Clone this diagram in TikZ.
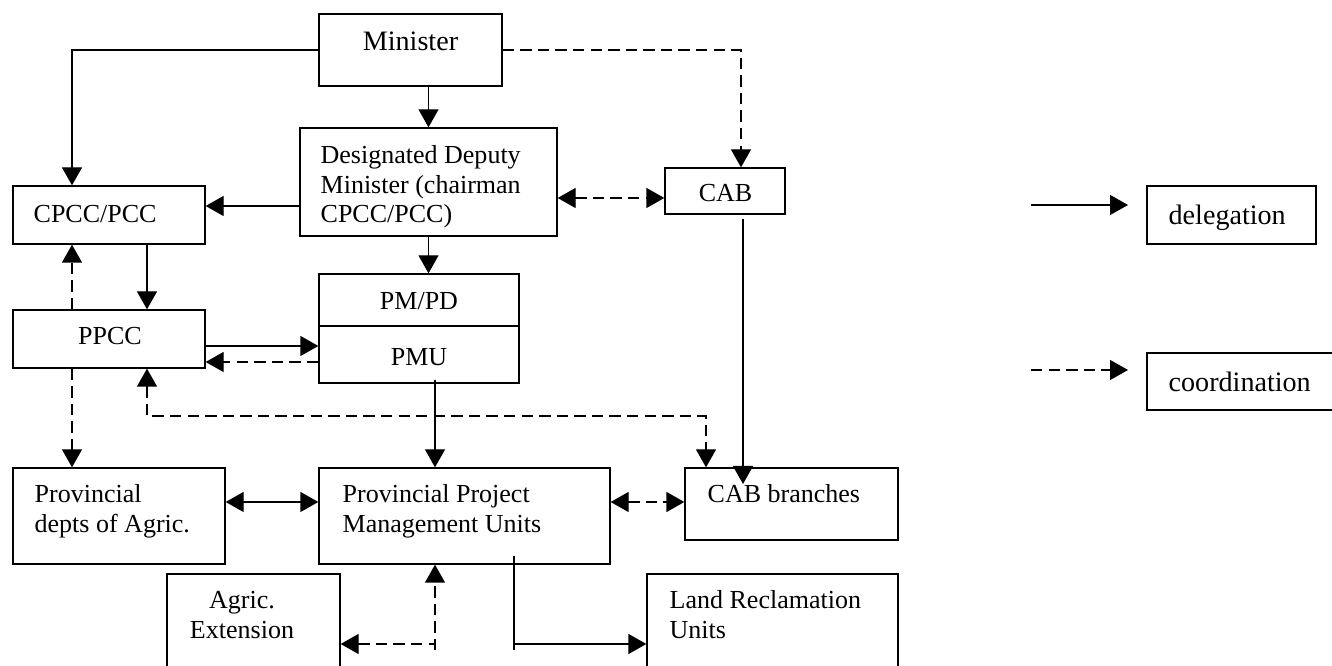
\documentclass[tikz,border=0pt]{standalone}
\usepackage{fontspec}
\setmainfont{Liberation Serif}
\usetikzlibrary{positioning, calc, arrows.meta}

\tikzset{
	box/.style={draw, line width=0.75pt, inner sep=0pt},
	txt/.style={inner sep=0pt, align=left, font=\fontsize{14.8}{17.6}\selectfont},
	big/.style={inner sep=0pt, font=\fontsize{16}{19}\selectfont},
	crd/.style={dash pattern=on 6.5pt off 3.5pt},
}

\begin{document}
\begin{tikzpicture}[>={Triangle[length=0.36cm,width=0.4cm]}, line width=0.75pt]
			\useasboundingbox (0,0) rectangle (26.64,13.32);
			\clip (0,0) rectangle (26.64,13.32);
			
			\node (min) at (8.21, 12.32) [box, minimum width=3.66cm, minimum height=1.44cm] {};
			\node (dep) at (8.57, 9.68) [box, minimum width=5.14cm, minimum height=2.16cm] {};
			\node (cab) at (14.5, 9.5) [box, minimum width=2.4cm, minimum height=0.92cm] {};
			\node (cpcc) at (2.18, 9.02) [box, minimum width=3.84cm, minimum height=1.16cm] {};
			\node (ppcc) at (2.18, 6.54) [box, minimum width=3.84cm, minimum height=1.16cm] {};
			\node (pmpd) at (8.38, 7.32) [box, minimum width=4cm, minimum height=1.04cm] {};
			\node (pmu) at (8.38, 6.23) [box, minimum width=4cm, minimum height=1.14cm] {};
			\node (depts) at (2.38, 3.0) [box, minimum width=4.24cm, minimum height=1.92cm] {};
			\node (ppmu) at (9.29, 3.0) [box, minimum width=5.82cm, minimum height=1.92cm] {};
			\node (cabb) at (15.83, 3.24) [box, minimum width=4.26cm, minimum height=1.44cm] {};
			\node (ext) at (5.07, 0.78) [box, minimum width=3.46cm, minimum height=2.12cm] {};
			\node (land) at (15.45, 0.78) [box, minimum width=5.02cm, minimum height=2.12cm] {};
			\node (deleg) at (24.63, 9.02) [box, minimum width=3.38cm, minimum height=1.16cm] {};
			\node (coord) at (24.87, 5.69) [box, minimum width=3.86cm, minimum height=1.14cm] {};
			
			% multi-line texts sit on the baseline of their last line
			\node (mint) at (8.21, 12.30) [big, anchor=base] {Minister};
			\node (dept) at (6.4, 8.86) [txt, anchor=base west, font=\fontsize{14.8}{17}\selectfont] {Designated Deputy\\Minister (chairman\\CPCC/PCC)};
			\node (cabt) at (14.51, 9.28) [txt, anchor=base] {CAB};
			\node (cpcct) at (0.66, 8.86) [txt, anchor=base west] {CPCC/PCC};
			\node (ppcct) at (2.2, 6.42) [txt, anchor=base] {PPCC};
			\node (pmpdt) at (8.38, 7.12) [txt, anchor=base] {PM/PD};
			\node (pmut) at (8.38, 6.0) [txt, anchor=base] {PMU};
			\node (deptst) at (0.68, 2.66) [txt, anchor=base west] {Provincial\\depts of Agric.};
			\node (ppmut) at (6.84, 2.66) [txt, anchor=base west] {Provincial Project\\Management Units};
			\node (cabbt) at (14.14, 3.26) [txt, anchor=base west] {CAB branches};
			\node (extt) at (4.84, 0.54) [txt, anchor=base, align=center] {Agric.\\Extension};
			\node (landt) at (13.38, 0.54) [txt, anchor=base west] {Land Reclamation\\Units};
			\node (delegt) at (23.36, 8.82) [big, anchor=base west] {delegation};
			\node (coordt) at (23.36, 5.48) [big, anchor=base west] {coordination};
			
			\coordinate (cabdown) at (14.86, 3.64);
			\coordinate (loop) at (14.12, 5.0);
			\coordinate (fork) at (8.7, 0.44);
			\coordinate (bend) at (10.28, 0.44);
			\coordinate (leg1) at (20.62, 9.22);
			\coordinate (leg2) at (20.62, 5.92);
			
			\draw[->] (min.west) -| ([xshift=-0.74cm]cpcc.north);
			\draw[->] (min.south -| dep.north) -- (dep.north);
			\draw[crd, ->] (min.east) -| ([xshift=0.32cm]cab.north);
			\draw[->] ([yshift=0.18cm]cpcc.east -| dep.west) -- ([yshift=0.18cm]cpcc.east);
			\draw[crd, <->] ([yshift=-0.14cm]cab.west -| dep.east) -- ([yshift=-0.14cm]cab.west);
			\draw[->] (dep.south) -- (dep.south |- pmpd.north);
			\draw[->] ([yshift=-0.08cm]cab.south -| cabdown) -- (cabdown);
			\draw[->] ([xshift=0.76cm]cpcc.south) -- ([xshift=0.76cm]ppcc.north);
			\draw[crd, ->] ([xshift=-0.74cm]ppcc.north) -- ([xshift=-0.74cm]cpcc.south);
			\draw[->] ([yshift=-0.14cm]ppcc.east) -- ([yshift=-0.14cm]ppcc.east -| pmu.west);
			\draw[crd, ->] ([yshift=-0.46cm]ppcc.east -| pmu.west) -- ([yshift=-0.46cm]ppcc.east);
			\draw[crd, <->] ([xshift=0.76cm]ppcc.south) |- (loop) -- (loop |- cabb.north);
			\draw[->] ([xshift=0.32cm,yshift=0.08cm]pmu.south) -- ([xshift=0.32cm]pmu.south |- ppmu.north);
			\draw[crd, ->] ([xshift=-0.74cm]ppcc.south) -- ([xshift=-0.74cm]ppcc.south |- depts.north);
			\draw[<->] ([yshift=0.28cm]depts.east) -- ([yshift=0.28cm]depts.east -| ppmu.west);
			\draw[crd, <->] ([yshift=0.28cm]depts.east -| ppmu.east) -- ([yshift=0.28cm]depts.east -| cabb.west);
			\draw[crd, <->] (ext.east |- fork) -- (fork) -- (fork |- ppmu.south);
			\draw[crd] (fork) -- ++(0,-0.12);
			\draw[->] ([yshift=0.18cm]ppmu.south -| bend) -- (bend) -- (bend -| land.west);
			\draw (bend) -- ++(0,-0.12);
			\draw[->] (leg1) -- ++(1.94,0);
			\draw[crd, ->] (leg2) -- ++(1.94,0);
		\end{tikzpicture}
\end{document}
